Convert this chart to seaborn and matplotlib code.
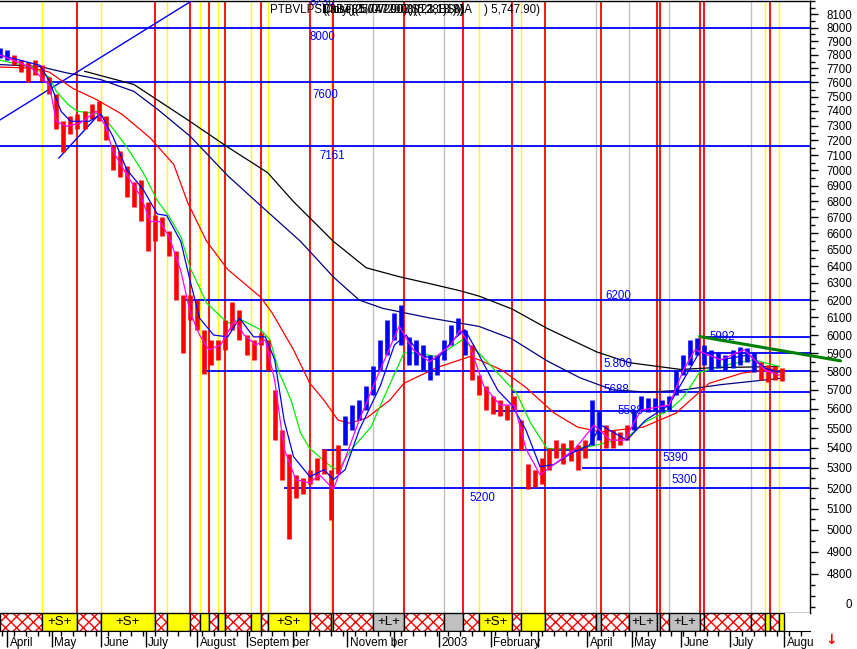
import numpy as np
import matplotlib
matplotlib.use("Agg")
import matplotlib.pyplot as plt
import seaborn as sns
from matplotlib.ticker import FixedLocator, FuncFormatter, NullFormatter
from matplotlib.transforms import ScaledTranslation

# ---------------- data (x = trading session index) ----------------
bar_session = list(range(0, 336, 3))
bar_high = [7850, 7835, 7797, 7760, 7745, 7760, 7723, 7640, 7520, 7329, 7363, 7377, 7398, 7445, 7467, 7363,
            7168, 7130, 7030, 6926, 6940, 6798, 6715, 6700, 6611, 6490, 6229, 6229, 6200, 6030, 5973, 5973,
            6085, 6190, 6140, 6000, 5973, 6010, 5973, 5700, 5490, 5370, 5265, 5250, 5290, 5346, 5395, 5290,
            5412, 5565, 5620, 5645, 5722, 5830, 5973, 6085, 6125, 6170, 5990, 5973, 5945, 5890, 5890, 5973,
            6057, 6095, 6030, 5945, 5778, 5722, 5667, 5645, 5620, 5667, 5541, 5316, 5290, 5346, 5400, 5438,
            5423, 5438, 5412, 5438, 5645, 5593, 5515, 5490, 5480, 5515, 5593, 5667, 5655, 5655, 5645, 5667,
            5805, 5890, 5973, 5985, 5945, 5918, 5905, 5890, 5918, 5935, 5930, 5905, 5852, 5836, 5830, 5820]
bar_low = [7775, 7760, 7723, 7672, 7600, 7651, 7610, 7520, 7275, 7120, 7240, 7275, 7275, 7343, 7329, 7200,
           7000, 6958, 6830, 6765, 6673, 6490, 6550, 6580, 6459, 6200, 5900, 6085, 6030, 5785, 5836, 5863,
           5918, 6030, 5973, 5890, 5863, 5945, 5805, 5438, 5241, 4960, 5150, 5170, 5220, 5241, 5270, 5046,
           5270, 5412, 5490, 5541, 5593, 5672, 5805, 5890, 5973, 5945, 5836, 5836, 5805, 5751, 5778, 5863,
           5945, 6005, 5890, 5751, 5672, 5593, 5575, 5565, 5541, 5593, 5390, 5195, 5205, 5220, 5290, 5346,
           5320, 5335, 5290, 5346, 5412, 5438, 5400, 5400, 5412, 5438, 5490, 5593, 5583, 5593, 5583, 5593,
           5672, 5778, 5836, 5890, 5836, 5805, 5820, 5805, 5820, 5836, 5852, 5795, 5751, 5740, 5751, 5745]
bar_trend = "uu" + "d" * 47 + "u" * 18 + "d" * 17 + "uu" + "dddd" + "u" * 18 + "dddd"

ma5_x = [0, 13, 21, 24, 28, 34, 41, 45, 48, 54, 60, 64, 68, 72, 77, 81, 85, 89, 94, 100, 104, 109, 113, 117, 121,
         126, 132, 136, 142, 147, 153, 162, 170, 176, 183, 192, 196, 200, 206, 213, 219, 224, 230, 236, 245, 253,
         260, 266, 273, 285, 291, 296, 307, 317, 326, 332]
ma5_y = [7797, 7710, 7580, 7329, 7295, 7315, 7398, 7295, 7130, 6970, 6830, 6673, 6673, 6580, 6372, 6130, 6000,
         5918, 5945, 6085, 6000, 5945, 5973, 5751, 5395, 5241, 5225, 5265, 5195, 5346, 5541, 5810, 6050, 5918,
         5852, 5945, 6030, 5945, 5722, 5620, 5620, 5395, 5265, 5316, 5395, 5515, 5438, 5438, 5593, 5620, 5805,
         5918, 5863, 5918, 5805, 5778]
ma10_x = [0, 17, 21, 26, 30, 38, 43, 48, 54, 61, 67, 71, 77, 81, 85, 91, 97, 102, 108, 113, 117, 121, 125, 132,
          138, 142, 147, 153, 162, 168, 173, 179, 186, 193, 198, 204, 212, 218, 224, 230, 236, 243, 251, 256, 267,
          275, 285, 291, 298, 307, 319, 326, 332]
ma10_y = [7797, 7723, 7610, 7398, 7329, 7329, 7377, 7228, 7005, 6875, 6720, 6710, 6550, 6311, 6096, 6000, 5990,
          6096, 5990, 5990, 5863, 5541, 5355, 5255, 5290, 5241, 5290, 5490, 5722, 5945, 6000, 5890, 5863, 5973,
          6030, 5890, 5698, 5620, 5490, 5305, 5316, 5370, 5412, 5515, 5438, 5541, 5620, 5751, 5907, 5863, 5890,
          5815, 5795]
ma20_x = [0, 14, 21, 24, 29, 33, 43, 48, 54, 61, 67, 72, 77, 81, 88, 97, 103, 111, 115, 119, 124, 128, 132, 141,
          144, 150, 158, 163, 172, 178, 186, 197, 204, 212, 220, 226, 233, 243, 251, 267, 274, 285, 291, 298, 310,
          321, 332]
ma20_y = [7760, 7710, 7637, 7537, 7445, 7398, 7377, 7282, 7154, 6985, 6805, 6705, 6580, 6390, 6183, 6068, 6085,
          6030, 5973, 5790, 5645, 5475, 5395, 5305, 5290, 5395, 5505, 5645, 5900, 5900, 5880, 5973, 5900, 5790,
          5683, 5526, 5395, 5395, 5405, 5450, 5526, 5593, 5660, 5795, 5836, 5863, 5826]
ma50_x = [0, 14, 21, 31, 41, 52, 64, 74, 80, 88, 97, 111, 116, 125, 132, 138, 144, 149, 156, 166, 172, 186, 200,
          204, 214, 224, 236, 246, 256, 274, 288, 302, 316, 331]
ma50_y = [7710, 7703, 7674, 7558, 7480, 7377, 7215, 7039, 6790, 6550, 6380, 6217, 6124, 5918, 5735, 5645, 5541,
          5525, 5551, 5645, 5735, 5820, 5880, 5863, 5805, 5713, 5578, 5505, 5480, 5505, 5578, 5735, 5790, 5815]
ma100_x = [0, 17, 28, 43, 57, 67, 81, 97, 111, 128, 142, 153, 163, 183, 204, 218, 233, 247, 261, 276, 290, 307,
           324, 332]
ma100_y = [7728, 7714, 7670, 7620, 7537, 7413, 7227, 6965, 6773, 6550, 6335, 6200, 6152, 6097, 6049, 5979, 5857,
           5765, 5700, 5688, 5698, 5728, 5751, 5762]
ma200_x = [36, 57, 80, 97, 114, 125, 142, 156, 170, 183, 196, 204, 218, 233, 254, 268, 290, 304, 332]
ma200_y = [7680, 7586, 7338, 7154, 6985, 6798, 6550, 6390, 6337, 6296, 6254, 6223, 6149, 6038, 5907, 5847, 5810,
           5820, 5826]

levels = [8000, 7600, 7161, 6200, 5992, 5900, 5800, 5688, 5588, 5390, 5300, 5200]
level_start = [0, 0, 0, 79, 298, 299, 86, 218, 210, 137, 248, 121]
level_text = ["8230", "8000", "7600", "7161", "6200", "5.800", "5688", "5588", "5390", "5300", "5200", "5992"]
level_text_x = [132, 132, 133, 136, 258, 257, 257, 263, 282, 286, 200, 302]
level_text_y = [8195, 7931, 7508, 7094, 6223, 5838, 5699, 5588, 5346, 5241, 5151, 5992]

event_pos = [18, 33, 43, 66, 71, 81, 85, 89, 93, 96, 107, 111, 114, 132, 141, 142, 159, 172, 189, 197, 204, 218,
             222, 232, 254, 256, 268, 280, 281, 285, 298, 300, 320, 326, 328, 332]
event_kind = "yryryryryryryryrgrgryryrgrgrrgrrgyry"

seg_start = [0, 18, 33, 43, 66, 71, 81, 85, 89, 93, 96, 107, 111, 114, 132, 141, 142, 159, 172, 189, 197, 204,
             218, 222, 232, 254, 256, 268, 280, 281, 285, 298, 300, 320, 326, 328, 332]
seg_kind = "hyhyhyhyhyhyhyhyhghghyhyhghgghghhhyhy"
seg_label = {1: "+S+", 3: "+S+", 13: "+S+", 17: "+L+", 21: "+S+", 27: "+L+", 30: "+L+"}
band_end = 334

trend_main = ([0, 82], [7338, 8207])
trend_small = ([25, 43], [7080, 7391])
trend_green = ([298, 358], [5992, 5857])

month_pos = [3, 22, 43, 62, 84, 105, 125, 148, 168, 187, 209, 229, 250, 269, 290, 311, 334]
month_names = ["April", "May", "June", "July", "August", "Septem ber", "", "Novem ber", "", "2003", "February",
               "", "April", "May", "June", "July", "Augu"]

header_left = "PTBVLPS1"
header_garble = ["Daily(31/07/2003)(5,3,1)SMA", "Close(25/07/2003)(21,13,8)", "((3BT)(5,747.90)(ST28B1)))"]
header_right = ") 5,747.90)"

# ---------------- style ----------------
sns.set_style("white")
plt.rcParams["font.family"] = ["Liberation Sans", "DejaVu Sans"]
plt.rcParams["hatch.linewidth"] = 1.0

fig = plt.figure(figsize=(8.57, 6.49), dpi=100)
W, H = 857, 649
ax = fig.add_axes([0, 36 / H, 810 / W, 612 / H])
axb = fig.add_axes([0, 18 / H, 810 / W, 18 / H])

XMAX = 345
ax.set_yscale("log")
ax.set_xlim(0, XMAX)
ax.set_ylim(4626, 8202)

col = {"r": "#FF0000", "y": "#FFFF00", "g": "#C0C0C0"}
for p, k in zip(event_pos, event_kind):
    ax.axvline(p, color=col[k], lw=1.3 if k == "r" else 1.0, zorder=1)

for lv, st in zip(levels, level_start):
    ax.hlines(lv, st, XMAX, color="#0000FF", lw=1.3, zorder=2)
for t, tx, ty in zip(level_text, level_text_x, level_text_y):
    ax.text(tx, ty, t, color="#0000FF", fontsize=8.3, ha="left", va="center", zorder=6)

ax.plot(*trend_main, color="#0000FF", lw=1.0, zorder=3)
ax.plot(*trend_small, color="#0000FF", lw=1.0, zorder=3)

ma_specs = [(ma200_x, ma200_y, "#000000"), (ma100_x, ma100_y, "#000080"), (ma50_x, ma50_y, "#FF0000"),
            (ma20_x, ma20_y, "#00EE00")]
for xs, ys, c in ma_specs:
    sns.lineplot(x=xs, y=ys, ax=ax, color=c, lw=0.9, estimator=None, sort=False, zorder=3)

bar_cols = ["#0000FF" if t == "u" else "#FF0000" for t in bar_trend]
ax.vlines(bar_session, bar_low, bar_high, colors=bar_cols, lw=3.3, zorder=4)

sns.lineplot(x=ma10_x, y=ma10_y, ax=ax, color="#0000FF", lw=0.9, estimator=None, sort=False, zorder=5)
sns.lineplot(x=ma5_x, y=ma5_y, ax=ax, color="#FF00FF", lw=0.9, estimator=None, sort=False, zorder=5)

ax.plot(*trend_green, color="#008000", lw=2.2, zorder=6, clip_on=False)

# axes styling
ax.spines["left"].set_visible(False)
for s in ["top", "right", "bottom"]:
    ax.spines[s].set_color("black")
    ax.spines[s].set_linewidth(1.0)
ax.set_xticks([])
ax.yaxis.tick_right()
majors = list(range(4800, 8101, 100))
minors = [v for v in range(4650, 8201, 50) if v not in majors]
ax.yaxis.set_major_locator(FixedLocator(majors))
ax.yaxis.set_minor_locator(FixedLocator(minors))
ax.yaxis.set_major_formatter(FuncFormatter(lambda v, p: f"{v:.0f}"))
ax.yaxis.set_minor_formatter(NullFormatter())
ax.tick_params(axis="y", which="major", length=5.8, width=1, pad=6.0, labelsize=8.3, colors="black",
               direction="out")
ax.tick_params(axis="y", which="minor", length=3.6, width=1, direction="out", colors="black")
ax.set_xlabel("")
ax.set_ylabel("")

# ---------------- signal band ----------------
axb.set_xlim(0, XMAX)
axb.set_ylim(0, 1)
seg_end = seg_start[1:] + [band_end]
for i, (s, e, k) in enumerate(zip(seg_start, seg_end, seg_kind)):
    if k == "h":
        axb.axvspan(s, e, facecolor="white", edgecolor="#FF0000", hatch="xxx", lw=0)
    elif k == "y":
        axb.axvspan(s, e, facecolor="#FFFF00", lw=0)
    else:
        axb.axvspan(s, e, facecolor="#C0C0C0", lw=0)
    axb.axvspan(s, e, fill=False, edgecolor="black", lw=1.0)
    if i in seg_label:
        axb.text((s + e) / 2, 0.5, seg_label[i], ha="center", va="center", fontsize=9.5, color="black")
for s in ["left", "right", "top"]:
    axb.spines[s].set_visible(False)
axb.spines["bottom"].set_color("black")
axb.set_yticks([])
axb.set_xticks(month_pos)
axb.set_xticklabels(month_names)
axb.xaxis.set_minor_locator(FixedLocator(list(range(1, XMAX, 5))))
axb.tick_params(axis="x", which="major", length=11.5, width=1, pad=-7, labelsize=8.5, direction="out",
                colors="black", bottom=True)
axb.tick_params(axis="x", which="minor", length=3.6, width=1, direction="out", colors="black", bottom=True)
for lbl in axb.get_xticklabels():
    lbl.set_horizontalalignment("left")
    lbl.set_transform(lbl.get_transform() + ScaledTranslation(2 / 72, 0, fig.dpi_scale_trans))

# ---------------- header text ----------------
fig.text(270 / W, 1 - 10 / H, header_left, fontsize=8.3, ha="left", va="center", color="black")
for s in header_garble:
    fig.text(322 / W, 1 - 10 / H, s, fontsize=8.3, ha="left", va="center", color="black")
fig.text(484 / W, 1 - 10 / H, header_right, fontsize=8.3, ha="left", va="center", color="black")
fig.text(846 / W, 1 - 605 / H, "0", fontsize=8.3, ha="left", va="center", color="black")
fig.text(831 / W, 1 - 640 / H, "\u2193", fontsize=10, ha="center", va="center", color="#FF0000",
         fontweight="bold", family=["DejaVu Sans"])

fig.savefig("out.png", dpi=100)
